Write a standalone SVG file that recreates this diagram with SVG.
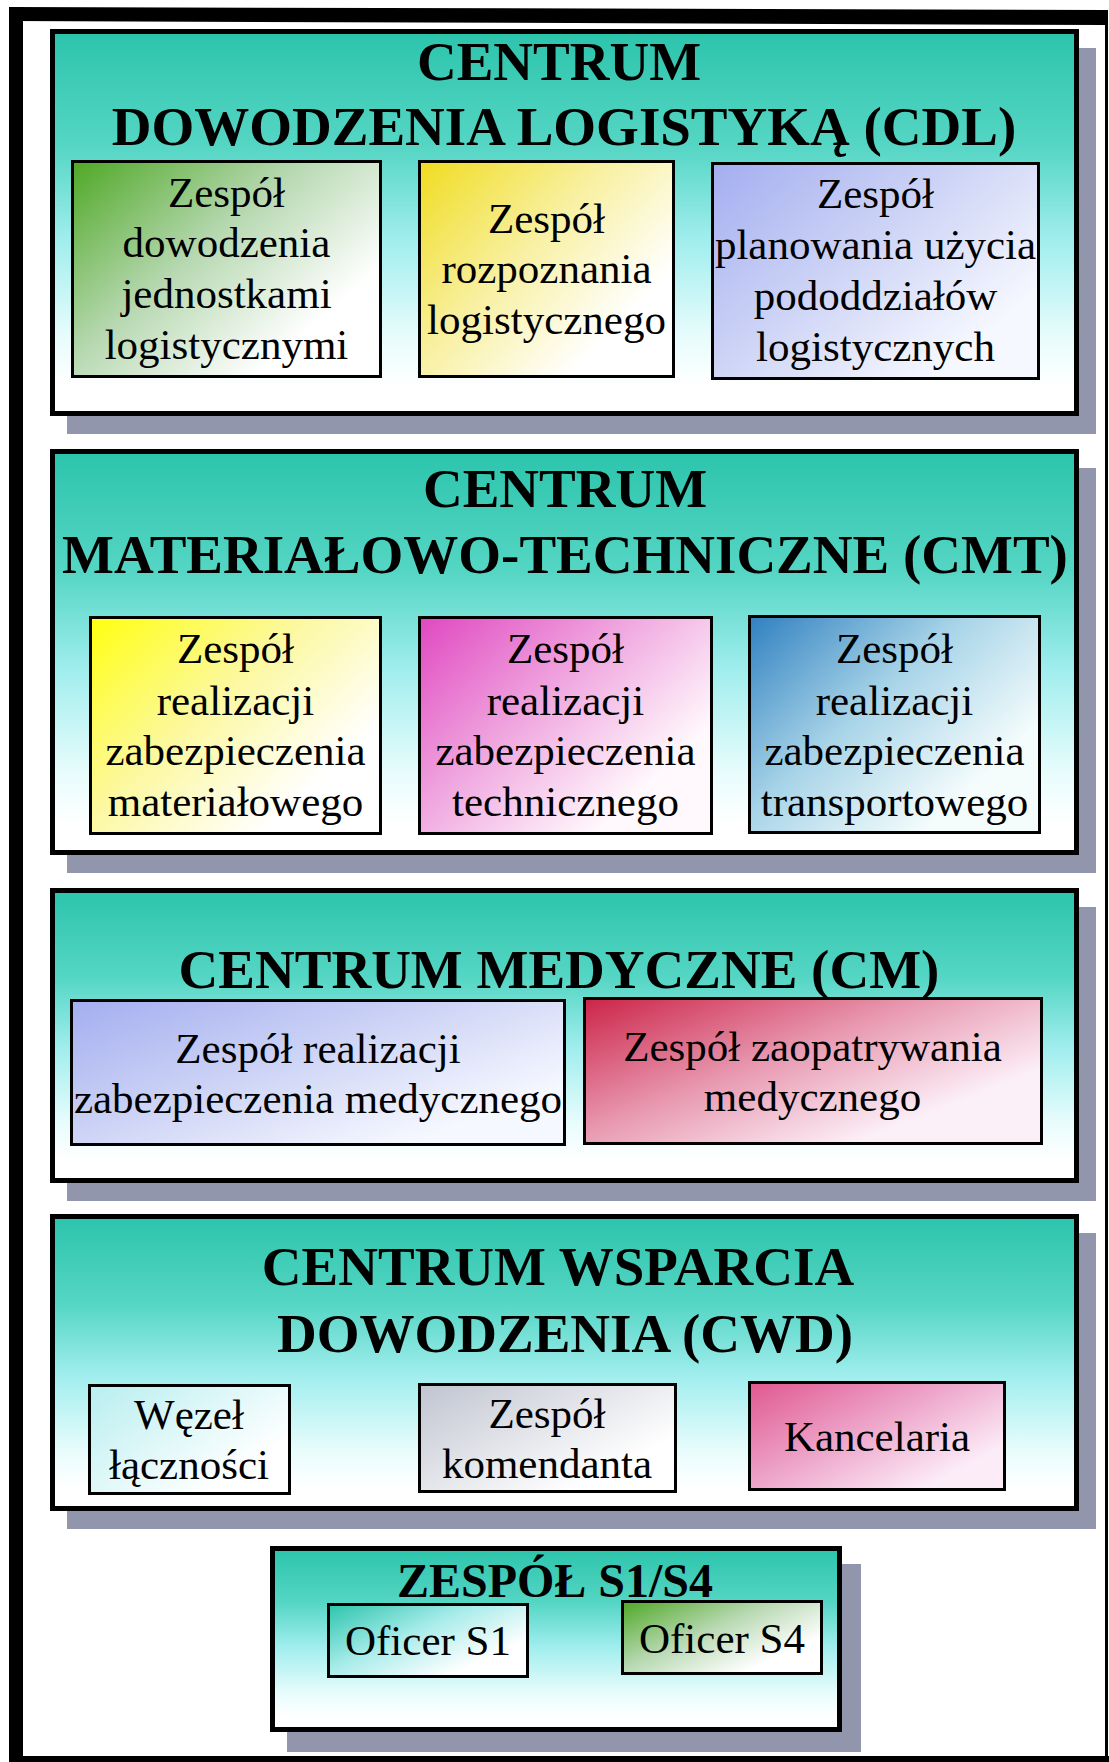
<svg xmlns="http://www.w3.org/2000/svg" width="1109" height="1762" viewBox="0 0 1109 1762">
<defs>
<linearGradient id="gPanel" x1="0" y1="0" x2="0" y2="1">
<stop offset="0" stop-color="#2cc4ac"/>
<stop offset="0.3" stop-color="#55d6c4"/>
<stop offset="0.55" stop-color="#a2eeee"/>
<stop offset="0.8" stop-color="#e8fcfc"/>
<stop offset="0.93" stop-color="#ffffff"/>
</linearGradient>
<linearGradient id="gGreen" x1="0" y1="0" x2="1" y2="0.8">
<stop offset="0" stop-color="#4fa826"/>
<stop offset="0.45" stop-color="#b6d8b0"/>
<stop offset="0.85" stop-color="#ffffff"/>
</linearGradient>
<linearGradient id="gYellow1" x1="0" y1="0" x2="1" y2="0.8">
<stop offset="0" stop-color="#f0dc20"/>
<stop offset="0.45" stop-color="#f8f0a0"/>
<stop offset="0.85" stop-color="#ffffff"/>
</linearGradient>
<linearGradient id="gLav" x1="0" y1="0" x2="1" y2="0.8">
<stop offset="0" stop-color="#a4aef0"/>
<stop offset="0.5" stop-color="#d0d6f6"/>
<stop offset="0.9" stop-color="#f6f8ff"/>
</linearGradient>
<linearGradient id="gYellow2" x1="0" y1="0" x2="1" y2="0.8">
<stop offset="0" stop-color="#ffff10"/>
<stop offset="0.45" stop-color="#fcf8a0"/>
<stop offset="0.85" stop-color="#ffffff"/>
</linearGradient>
<linearGradient id="gMagenta" x1="0" y1="0" x2="1" y2="0.8">
<stop offset="0" stop-color="#e048c0"/>
<stop offset="0.45" stop-color="#f0a8e0"/>
<stop offset="0.85" stop-color="#fff8fc"/>
</linearGradient>
<linearGradient id="gBlue" x1="0" y1="0" x2="1" y2="0.8">
<stop offset="0" stop-color="#3080c0"/>
<stop offset="0.45" stop-color="#a8d4e8"/>
<stop offset="0.85" stop-color="#f4fcfc"/>
</linearGradient>
<linearGradient id="gCrimson" x1="0" y1="0" x2="1" y2="0.8">
<stop offset="0" stop-color="#cc2448"/>
<stop offset="0.45" stop-color="#e898b0"/>
<stop offset="0.85" stop-color="#fcf0f8"/>
</linearGradient>
<linearGradient id="gCyan" x1="0" y1="0" x2="1" y2="0.8">
<stop offset="0" stop-color="#b8eef0"/>
<stop offset="0.85" stop-color="#ffffff"/>
</linearGradient>
<linearGradient id="gGray" x1="0" y1="0" x2="1" y2="0.8">
<stop offset="0" stop-color="#c0c4d0"/>
<stop offset="0.85" stop-color="#ffffff"/>
</linearGradient>
<linearGradient id="gPink" x1="0" y1="0" x2="1" y2="0.8">
<stop offset="0" stop-color="#e05890"/>
<stop offset="0.5" stop-color="#eea8cc"/>
<stop offset="0.9" stop-color="#fcecf8"/>
</linearGradient>
<linearGradient id="gTeal" x1="0" y1="0" x2="1" y2="0.8">
<stop offset="0" stop-color="#2cc4ac"/>
<stop offset="0.45" stop-color="#a8ecea"/>
<stop offset="0.85" stop-color="#ffffff"/>
</linearGradient>
<style>
.panel{stroke:#000;stroke-width:5;fill:url(#gPanel)}
.shadow{fill:#9296ac}
.box{stroke:#000;stroke-width:3}
.title{font-family:"Liberation Serif","Times New Roman",serif;font-weight:bold;font-size:55px;fill:#000;text-anchor:middle}
.lbl{font-family:"Liberation Serif","Times New Roman",serif;font-size:43px;fill:#000;text-anchor:middle}
</style>
</defs>
<rect x="0" y="0" width="1109" height="1762" fill="#ffffff"/>
<g id="frame">
<polygon points="10,7 1106,10 1106,25 10,21" fill="#000"/>
<rect x="9" y="7" width="14" height="1755" fill="#000"/>
<rect x="9" y="1756" width="1100" height="6" fill="#000"/>
<rect x="1105" y="10" width="3" height="1752" fill="#000"/>
</g>
<g id="connectors"/>
<g id="cdl">
<rect class="shadow" x="67" y="48" width="1029" height="386"/>
<rect class="panel" x="52.5" y="31.5" width="1024" height="382"/>
<text class="title" x="559" y="80">CENTRUM</text>
<text class="title" x="564" y="145">DOWODZENIA LOGISTYKĄ (CDL)</text>
<g id="cdl-dowodzenia">
<rect class="box" x="72.5" y="161.5" width="308" height="215" fill="url(#gGreen)"/>
<text class="lbl" x="226.5" y="207">Zespół</text>
<text class="lbl" x="226.5" y="257">dowodzenia</text>
<text class="lbl" x="226.5" y="308">jednostkami</text>
<text class="lbl" x="226.5" y="359">logistycznymi</text>
</g>
<g id="cdl-rozpoznania">
<rect class="box" x="419.5" y="161.5" width="254" height="215" fill="url(#gYellow1)"/>
<text class="lbl" x="546.5" y="233">Zespół</text>
<text class="lbl" x="546.5" y="283">rozpoznania</text>
<text class="lbl" x="546.5" y="334">logistycznego</text>
</g>
<g id="cdl-planowania">
<rect class="box" x="712.5" y="163.5" width="326" height="215" fill="url(#gLav)"/>
<text class="lbl" x="875.5" y="208">Zespół</text>
<text class="lbl" x="875.5" y="259">planowania użycia</text>
<text class="lbl" x="875.5" y="310">pododdziałów</text>
<text class="lbl" x="875.5" y="361">logistycznych</text>
</g>
</g>
<g id="cmt">
<rect class="shadow" x="67" y="468" width="1029" height="405"/>
<rect class="panel" x="52.5" y="451.5" width="1024" height="401"/>
<text class="title" x="565" y="507">CENTRUM</text>
<text class="title" x="565" y="573">MATERIAŁOWO-TECHNICZNE (CMT)</text>
<g id="cmt-materialowego">
<rect class="box" x="90.5" y="617.5" width="290" height="216" fill="url(#gYellow2)"/>
<text class="lbl" x="235.5" y="663">Zespół</text>
<text class="lbl" x="235.5" y="715">realizacji</text>
<text class="lbl" x="235.5" y="765">zabezpieczenia</text>
<text class="lbl" x="235.5" y="816">materiałowego</text>
</g>
<g id="cmt-technicznego">
<rect class="box" x="419.5" y="617.5" width="292" height="216" fill="url(#gMagenta)"/>
<text class="lbl" x="565.5" y="663">Zespół</text>
<text class="lbl" x="565.5" y="715">realizacji</text>
<text class="lbl" x="565.5" y="765">zabezpieczenia</text>
<text class="lbl" x="565.5" y="816">technicznego</text>
</g>
<g id="cmt-transportowego">
<rect class="box" x="749.5" y="616.5" width="290" height="216" fill="url(#gBlue)"/>
<text class="lbl" x="894.5" y="663">Zespół</text>
<text class="lbl" x="894.5" y="715">realizacji</text>
<text class="lbl" x="894.5" y="765">zabezpieczenia</text>
<text class="lbl" x="894.5" y="816">transportowego</text>
</g>
</g>
<g id="cm">
<rect class="shadow" x="67" y="907" width="1029" height="294"/>
<rect class="panel" x="52.5" y="890.5" width="1024" height="290"/>
<text class="title" x="559" y="988">CENTRUM MEDYCZNE (CM)</text>
<g id="cm-realizacji">
<rect class="box" x="71.5" y="1000.5" width="493" height="144" fill="url(#gLav)"/>
<text class="lbl" x="318" y="1063">Zespół realizacji</text>
<text class="lbl" x="318" y="1113">zabezpieczenia medycznego</text>
</g>
<g id="cm-zaopatrywania">
<rect class="box" x="584.5" y="998.5" width="457" height="145" fill="url(#gCrimson)"/>
<text class="lbl" x="812.5" y="1061">Zespół zaopatrywania</text>
<text class="lbl" x="812.5" y="1111">medycznego</text>
</g>
</g>
<g id="cwd">
<rect class="shadow" x="67" y="1233" width="1029" height="296"/>
<rect class="panel" x="52.5" y="1216.5" width="1024" height="292"/>
<text class="title" x="558" y="1285">CENTRUM WSPARCIA</text>
<text class="title" x="565" y="1352">DOWODZENIA (CWD)</text>
<g id="cwd-wezel">
<rect class="box" x="89.5" y="1385.5" width="200" height="108" fill="url(#gCyan)"/>
<text class="lbl" x="189" y="1429">Węzeł</text>
<text class="lbl" x="189" y="1479">łączności</text>
</g>
<g id="cwd-komendanta">
<rect class="box" x="419.5" y="1384.5" width="256" height="107" fill="url(#gGray)"/>
<text class="lbl" x="547" y="1428">Zespół</text>
<text class="lbl" x="547" y="1478">komendanta</text>
</g>
<g id="cwd-kancelaria">
<rect class="box" x="749.5" y="1382.5" width="255" height="107" fill="url(#gPink)"/>
<text class="lbl" x="877" y="1451">Kancelaria</text>
</g>
</g>
<g id="s1s4">
<rect class="shadow" x="287" y="1564" width="574" height="188"/>
<rect class="panel" x="272.5" y="1548.5" width="567" height="181"/>
<text class="title" x="555" y="1597" style="font-size:48px">ZESPÓŁ S1/S4</text>
<g id="s1">
<rect class="box" x="328.5" y="1604.5" width="199" height="72" fill="url(#gTeal)"/>
<text class="lbl" x="428" y="1655">Oficer S1</text>
</g>
<g id="s4">
<rect class="box" x="622.5" y="1601.5" width="199" height="72" fill="url(#gGreen)"/>
<text class="lbl" x="722" y="1653">Oficer S4</text>
</g>
</g>
</svg>
